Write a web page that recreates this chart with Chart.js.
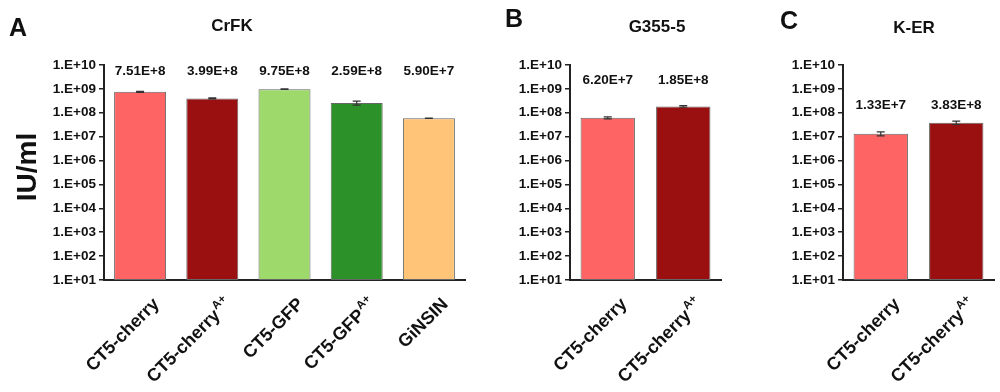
<!DOCTYPE html>
<html>
<head>
<meta charset="utf-8">
<script src="https://cdn.jsdelivr.net/npm/chart.js@4.4.1/dist/chart.umd.min.js"></script>
<style>
  body { margin: 0; width: 1000px; height: 392px; overflow: hidden; position: relative; background: #fff;
         font-family: 'Liberation Sans', Arial, sans-serif; font-weight: bold; color: #111; }
  canvas { position: absolute; top: 0; }
  .t { position: absolute; white-space: nowrap; transform: translate(-50%, -50%); }
</style>
</head>
<body>
<canvas id="cA" width="480" height="392" style="left:0"></canvas>
<canvas id="cB" width="280" height="392" style="left:480px"></canvas>
<canvas id="cC" width="240" height="392" style="left:760px"></canvas>

<div class="t" style="left:18px;top:27px;font-size:25px">A</div>
<div class="t" style="left:514px;top:18px;font-size:25px">B</div>
<div class="t" style="left:789px;top:20px;font-size:25px">C</div>
<div class="t" style="left:232px;top:26px;font-size:17px">CrFK</div>
<div class="t" style="left:657px;top:27px;font-size:17px">G355-5</div>
<div class="t" style="left:914px;top:28px;font-size:17px">K-ER</div>
<div class="t" style="left:27px;top:167px;font-size:28px;transform:translate(-50%,-50%) rotate(-90deg)">IU/ml</div>

<script>
// y axis (log) ticks
var tickValues = [1e1, 1e2, 1e3, 1e4, 1e5, 1e6, 1e7, 1e8, 1e9, 1e10];
var tickLabels = ['1.E+01', '1.E+02', '1.E+03', '1.E+04', '1.E+05', '1.E+06', '1.E+07', '1.E+08', '1.E+09', '1.E+10'];

// A - CrFK
var crfkNames  = ['CT5-cherry', 'CT5-cherry', 'CT5-GFP', 'CT5-GFP', 'GiNSIN'];
var crfkSup    = ['', 'A+', '', 'A+', ''];
var crfkValues = [7.51e8, 3.99e8, 9.75e8, 2.59e8, 5.90e7];
var crfkErrors = [3e7, 2e7, 2e7, 5e7, 1.5e6];
var crfkText   = ['7.51E+8', '3.99E+8', '9.75E+8', '2.59E+8', '5.90E+7'];

// B - G355-5
var g355Names  = ['CT5-cherry', 'CT5-cherry'];
var g355Sup    = ['', 'A+'];
var g355Values = [6.2e7, 1.85e8];
var g355Errors = [6e6, 1.5e7];
var g355Text   = ['6.20E+7', '1.85E+8'];

// C - K-ER
var kerNames  = ['CT5-cherry', 'CT5-cherry'];
var kerSup    = ['', 'A+'];
var kerValues = [1.33e7, 3.83e7];
var kerErrors = [2.5e6, 6e6];
var kerText   = ['1.33E+7', '3.83E+8'];

var FONT = "'Liberation Sans', Arial, sans-serif";
var cherry = '#ff6464', cherryA = '#9a0f0f';

var panelPlugin = {
  id: 'panelExtras',
  afterDatasetsDraw: function(chart) {
    var p = chart.options.plugins.panelExtras;
    var ctx = chart.ctx, y = chart.scales.y, meta = chart.getDatasetMeta(0);
    var area = chart.chartArea;
    ctx.save();
    // error bars
    ctx.strokeStyle = '#333';
    ctx.lineWidth = 1.2;
    meta.data.forEach(function(bar, i) {
      var v = p.values[i], e = p.errors[i];
      var y1 = y.getPixelForValue(v + e), y2 = y.getPixelForValue(v - e);
      ctx.beginPath();
      ctx.moveTo(bar.x, y1); ctx.lineTo(bar.x, y2);
      ctx.moveTo(bar.x - 4, y1); ctx.lineTo(bar.x + 4, y1);
      ctx.moveTo(bar.x - 4, y2); ctx.lineTo(bar.x + 4, y2);
      ctx.stroke();
    });
    // value labels
    ctx.fillStyle = '#111';
    ctx.font = 'bold 13.5px ' + FONT;
    ctx.textAlign = 'center';
    ctx.textBaseline = 'middle';
    var ly = y.getPixelForValue(p.labelAt);
    meta.data.forEach(function(bar, i) {
      ctx.fillText(p.text[i], bar.x, ly);
    });
    // rotated category labels with superscript
    meta.data.forEach(function(bar, i) {
      ctx.save();
      ctx.translate(bar.x + 20, area.bottom + 25);
      ctx.rotate(-Math.PI / 4);
      ctx.textAlign = 'left';
      ctx.textBaseline = 'alphabetic';
      ctx.font = 'bold 18px ' + FONT;
      var wMain = ctx.measureText(p.names[i]).width;
      ctx.font = 'bold 11.5px ' + FONT;
      var wSup = p.sup[i] ? ctx.measureText(p.sup[i]).width + 1 : 0;
      var x0 = -(wMain + wSup);
      ctx.font = 'bold 18px ' + FONT;
      ctx.fillText(p.names[i], x0, 0);
      if (p.sup[i]) {
        ctx.font = 'bold 11.5px ' + FONT;
        ctx.fillText(p.sup[i], x0 + wMain + 1, -8);
      }
      ctx.restore();
    });
    ctx.restore();
  }
};

function makePanel(id, cfg) {
  var canvas = document.getElementById(id);
  var W = canvas.width, H = canvas.height;
  return new Chart(canvas, {
    type: 'bar',
    data: {
      labels: cfg.names.map(function(n, i) { return n + cfg.sup[i]; }),
      datasets: [{
        data: cfg.values,
        backgroundColor: cfg.colors,
        borderColor: '#666',
        borderWidth: 1,
        borderSkipped: false,
        categoryPercentage: 1,
        barPercentage: 0.72
      }]
    },
    options: {
      responsive: false,
      animation: false,
      layout: { padding: { top: 65, right: W - cfg.right, bottom: 0, left: 0 } },
      plugins: {
        legend: { display: false },
        tooltip: { enabled: false },
        panelExtras: cfg
      },
      scales: {
        x: {
          ticks: { display: false },
          grid: { display: true, drawOnChartArea: false, drawTicks: false },
          border: { display: true, color: '#222', width: 2 },
          afterFit: function(s) { s.height = H - 280; }
        },
        y: {
          type: 'logarithmic',
          min: 10,
          max: 1e10,
          afterBuildTicks: function(s) {
            s.ticks = tickValues.map(function(v) { return { value: v }; });
          },
          ticks: {
            autoSkip: false,
            padding: 3,
            color: '#111',
            font: { family: FONT, size: 13.5, weight: 'bold' },
            callback: function(v) {
              var k = tickValues.indexOf(v);
              return k >= 0 ? tickLabels[k] : '';
            }
          },
          grid: { drawOnChartArea: false, drawTicks: true, tickLength: 5, color: '#222', lineWidth: 1.5 },
          border: { display: true, color: '#222', width: 2 },
          afterFit: function(s) { s.width = cfg.left; }
        }
      }
    },
    plugins: [panelPlugin]
  });
}

makePanel('cA', {
  names: crfkNames, sup: crfkSup, values: crfkValues, errors: crfkErrors, text: crfkText,
  colors: [cherry, cherryA, '#9ed96c', '#2c9128', '#ffc477'],
  left: 104, right: 465, labelAt: 5.6e9
});
makePanel('cB', {
  names: g355Names, sup: g355Sup, values: g355Values, errors: g355Errors, text: g355Text,
  colors: [cherry, cherryA],
  left: 90, right: 241, labelAt: 2.3e9
});
makePanel('cC', {
  names: kerNames, sup: kerSup, values: kerValues, errors: kerErrors, text: kerText,
  colors: [cherry, cherryA],
  left: 83, right: 234, labelAt: 2.1e8
});
</script>
</body>
</html>
